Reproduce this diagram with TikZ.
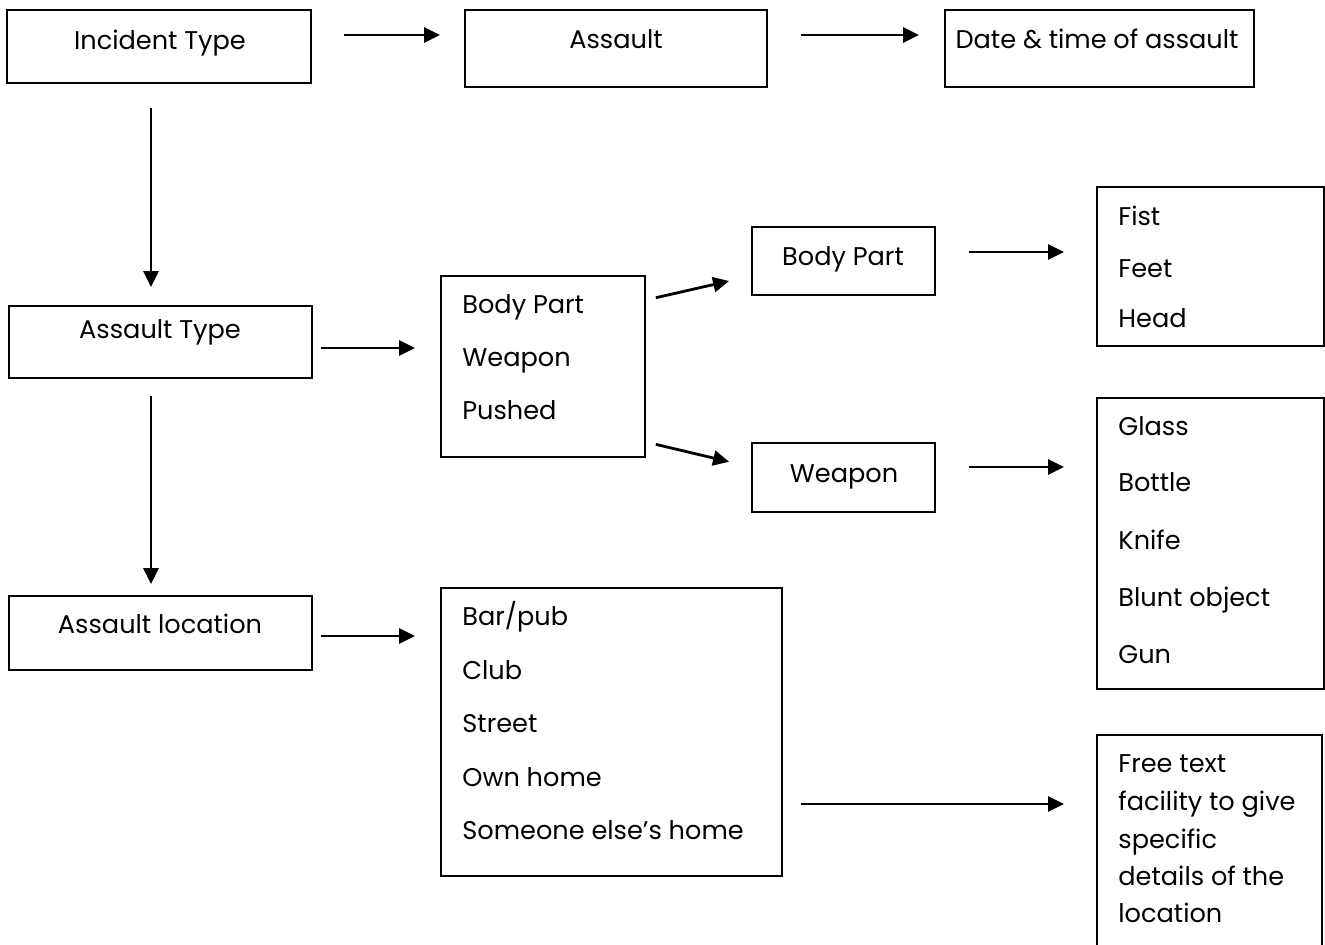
\documentclass[tikz,border=0pt]{standalone}
\usepackage{fontspec}
\setmainfont{Poppins}
\usetikzlibrary{positioning}
\usetikzlibrary{arrows.meta}

\tikzset{
  box/.style={draw, line width=0.9pt, inner sep=0pt},
  arr/.style={-{Triangle[length=8pt,width=7.5pt]}, line width=1.4pt},
  txt/.style={anchor=base, inner sep=0pt},
  item/.style={anchor=base west, inner sep=0pt}
}

\begin{document}
\begin{tikzpicture}[x=0.5pt, y=-0.5pt, font=\fontsize{12.8}{15}\selectfont]
  \useasboundingbox (0,0) rectangle (1325,945);
  \clip (0,0) rectangle (1325,945);

  % boxes
  \node[box, minimum width=152pt, minimum height=36.5pt] (inc) at (159,46.5) {};
  \node[box, minimum width=151pt, minimum height=38.5pt] (asl) at (616,48.5) {};
  \node[box, minimum width=154.5pt, minimum height=38.5pt] (date) at (1099.5,48.5) {};
  \node[box, minimum width=151.5pt, minimum height=36pt] (atype) at (160.5,342) {};
  \node[box, minimum width=102pt, minimum height=90.5pt] (tlist) at (543,366.5) {};
  \node[box, minimum width=91.5pt, minimum height=34pt] (bpart) at (843.5,261) {};
  \node[box, minimum width=91.5pt, minimum height=34.5pt] (weap) at (843.5,477.5) {};
  \node[box, minimum width=113.5pt, minimum height=79.5pt] (blist) at (1210.5,266.5) {};
  \node[box, minimum width=113.5pt, minimum height=145.5pt] (wlist) at (1210.5,543.5) {};
  \node[box, minimum width=151.5pt, minimum height=37pt] (aloc) at (160.5,633) {};
  \node[box, minimum width=170.5pt, minimum height=144pt] (llist) at (611.5,732) {};
  \node[box, minimum width=112.5pt, minimum height=115pt] (free) at (1209.5,850) {};

  % texts
  \node[txt] at (160,50) {Incident Type};
  \node[txt] at (616,49) {Assault};
  \node[txt] at (1097,49) {Date \& time of assault};
  \node[txt] at (160,339) {Assault Type};
  \node[txt] at (843,266) {Body Part};
  \node[txt] at (844,482) {Weapon};
  \node[txt] at (160,633) {Assault location};

  \node[item] at (462,314) {Body Part};
  \node[item] at (462,367) {Weapon};
  \node[item] at (462,420) {Pushed};

  \node[item] at (1118,226) {Fist};
  \node[item] at (1118,278) {Feet};
  \node[item] at (1118,328) {Head};

  \node[item] at (1118,436) {Glass};
  \node[item] at (1118,492) {Bottle};
  \node[item] at (1118,549) {Knife};
  \node[item] at (1118,606) {Blunt object};
  \node[item] at (1118,663) {Gun};

  \node[item] at (462,625) {Bar/pub};
  \node[item] at (462,679) {Club};
  \node[item] at (462,732) {Street};
  \node[item] at (462,786) {Own home};
  \node[item] at (462,839) {Someone else’s home};

  \node[item] at (1118,772) {Free text};
  \node[item] at (1118,810) {facility to give};
  \node[item] at (1118,848) {specific};
  \node[item] at (1118,885) {details of the};
  \node[item] at (1118,922) {location};

  % connectors
  \draw[arr, shorten <=16pt, shorten >=12pt] ([yshift=5.75pt]inc.east) -- ([yshift=6.75pt]asl.west);
  \draw[arr, shorten <=16.5pt, shorten >=12.5pt] ([yshift=6.75pt]asl.east) -- ([yshift=6.75pt]date.west);
  \draw[arr, shorten <=12pt, shorten >=9pt] ([xshift=-4pt]inc.south) -- ([xshift=-4.75pt]atype.north);
  \draw[arr, shorten <=4pt, shorten >=12.5pt] ([yshift=-3pt]atype.east) -- ([yshift=9.25pt]tlist.west);
  \draw[arr, shorten <=5.1pt, shorten >=11.3pt] ([yshift=33.25pt]tlist.east) -- ([yshift=-7.5pt]bpart.west);
  \draw[arr, shorten <=5.1pt, shorten >=11.3pt] ([yshift=-37.75pt]tlist.east) -- ([yshift=5.25pt]weap.west);
  \draw[arr, shorten <=16.5pt, shorten >=16pt] ([yshift=4.5pt]bpart.east) -- ([yshift=7.25pt]blist.west);
  \draw[arr, shorten <=16.5pt, shorten >=16pt] ([yshift=5.25pt]weap.east) -- ([yshift=38.25pt]wlist.west);
  \draw[arr, shorten <=8.5pt, shorten >=5.5pt] ([xshift=-4.75pt]atype.south) -- ([xshift=-4.75pt]aloc.north);
  \draw[arr, shorten <=4pt, shorten >=12.5pt] ([yshift=-1.5pt]aloc.east) -- ([yshift=48pt]llist.west);
  \draw[arr, shorten <=9pt, shorten >=16pt] ([yshift=-36pt]llist.east) -- ([yshift=23pt]free.west);
\end{tikzpicture}
\end{document}
